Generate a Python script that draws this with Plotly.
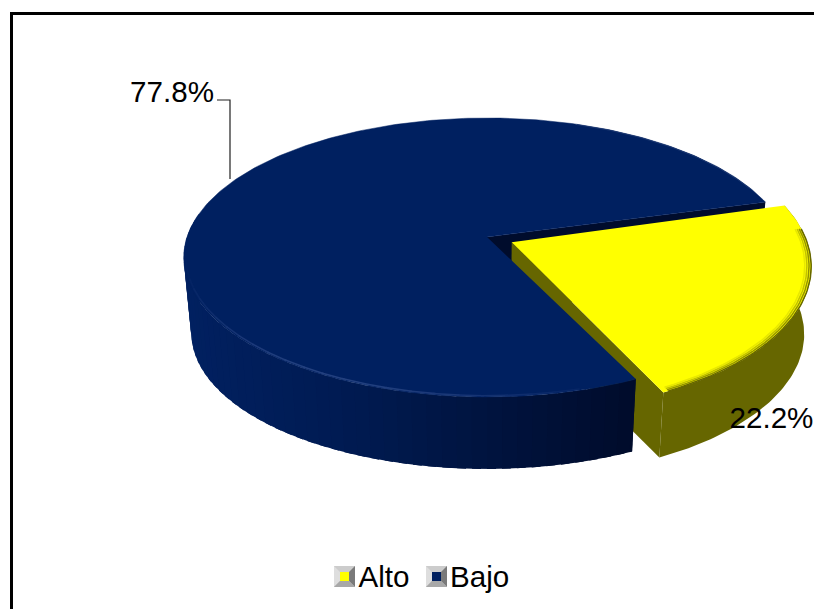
import numpy as np
import plotly.graph_objects as go

# Pie data
categories = ["Alto", "Bajo"]
percentages = [22.2, 77.8]

# Canvas and projection of the pie disc
WIDTH, HEIGHT = 814, 609
APEX_X, APEX_Y = 487.0, 237.0
RADIUS_X, RADIUS_Y = 300.0, 136.5
TILT = 0.147
DEPTH_Y, DEPTH_SCALE = 76.0, 0.975
START_ANGLE = 15.4      # degrees, counter-clockwise from +X; the Alto slice runs clockwise from here
EXPLODE = 0.09
EXPLODED_STRETCH = (0.98, 1.04)
EXPLODED_DEPTH = 0.9

YELLOW, YELLOW_WALL = "#FFFF00", "#666600"
NAVY, NAVY_CUT = "#002060", "#000C2C"


def project(x, y, depth=0.0):
    """Map disc coordinates to canvas pixels; depth 1 is the underside of the pie."""
    x, y = np.asarray(x, float), np.asarray(y, float)
    w = 1 + TILT * y
    s = 1 - (1 - DEPTH_SCALE) * depth
    return APEX_X + s * RADIUS_X * x / w, APEX_Y + DEPTH_Y * depth - s * RADIUS_Y * y / w


def arc(a0, a1, r=1.0, offset=(0.0, 0.0), depth=0.0, n=None, stretch=(1.0, 1.0)):
    n = n or max(2, int(abs(a1 - a0)) + 2)
    t = np.radians(np.linspace(a0, a1, n))
    return project(stretch[0] * r * np.cos(t) + offset[0], stretch[1] * r * np.sin(t) + offset[1], depth)


def mix(c0, c1, f):
    a = [int(c0[i:i + 2], 16) for i in (1, 3, 5)]
    b = [int(c1[i:i + 2], 16) for i in (1, 3, 5)]
    return "#%02x%02x%02x" % tuple(round(p + (q - p) * f) for p, q in zip(a, b))


fig = go.Figure()


def poly(x, y, color, edge=0.0):
    fig.add_trace(go.Scatter(x=list(x), y=list(y), mode="lines", fill="toself", fillcolor=color,
                             line=dict(color=color, width=edge), hoverinfo="skip", showlegend=False))


def stroke(x, y, color, width=1.0):
    fig.add_trace(go.Scatter(x=list(x), y=list(y), mode="lines", line=dict(color=color, width=width),
                             hoverinfo="skip", showlegend=False))


# Slice angles follow the percentages
sweep = percentages[0] / sum(percentages) * 360
alto_start, alto_end = START_ANGLE, START_ANGLE - sweep
bajo_start, bajo_end = alto_start, alto_end + 360
mid = np.radians((alto_start + alto_end) / 2)
shift = (EXPLODE * np.cos(mid), EXPLODE * np.sin(mid))

# Inner cut face of the navy slice, seen through the gap behind the exploded slice
ax0, ay0 = project(0, 0)
ax1, ay1 = project(0, 0, 1)
cx, cy = project(np.cos(np.radians(bajo_start)), np.sin(np.radians(bajo_start)))
cx1, cy1 = project(np.cos(np.radians(bajo_start)), np.sin(np.radians(bajo_start)), 1)
poly([ax0, cx, cx1, ax1], [ay0, cy, cy1, ay1], NAVY_CUT)

# Exploded slice: rim wall, cut wall, then top face
tx, ty = arc(alto_start, alto_end, offset=shift, stretch=EXPLODED_STRETCH)
bx, by = arc(alto_start, alto_end, offset=shift, depth=EXPLODED_DEPTH, stretch=EXPLODED_STRETCH)
poly(np.r_[tx, bx[::-1]], np.r_[ty, by[::-1]], YELLOW_WALL)
ox0, oy0 = project(*shift)
ox1, oy1 = project(*shift, EXPLODED_DEPTH)
poly([ox0, tx[-1], bx[-1], ox1], [oy0, ty[-1], by[-1], oy1], YELLOW_WALL)
poly(np.r_[ox0, tx], np.r_[oy0, ty], YELLOW)

# Soft bevel along the yellow rim, fading out towards the back corner
for r, f, width in [(0.999, 0.0, 1.5), (0.992, 0.3, 1.5), (0.985, 0.6, 1.5), (0.978, 0.85, 1.5)]:
    rx, ry = arc(alto_start - 10, alto_end + 1, r=r, offset=shift, stretch=EXPLODED_STRETCH)
    stroke(rx, ry, mix(YELLOW_WALL, YELLOW, f), width)

# Navy rim wall, shaded from left to right
wall_angles = np.arange(170, bajo_end, 2.5).tolist() + [bajo_end]
for a0, a1 in zip(wall_angles[:-1], wall_angles[1:]):
    a1_lap = min(a1 + 1.5, bajo_end)
    ux, uy = arc(a0, a1_lap, n=2)
    lx, ly = arc(a0, a1_lap, depth=1, n=2)
    f = float(np.clip((ux.mean() - 190) / 440, 0, 1))
    shade = mix("#012060", "#001A50", f / 0.4) if f < 0.4 else mix("#001A50", NAVY_CUT, (f - 0.4) / 0.6)
    poly(np.r_[ux, lx[::-1]], np.r_[uy, ly[::-1]], shade)

# Navy top face
nx, ny = arc(bajo_start, bajo_end)
poly(np.r_[ax0, nx], np.r_[ay0, ny], NAVY, edge=0.5)

# Lighter bevel along the navy rim
rim_angles = np.arange(185, bajo_end - 8, 4.0).tolist()
for a0, a1 in zip(rim_angles[:-1], rim_angles[1:]):
    rx, ry = arc(a0, a1 + 0.5, r=0.993, n=2)
    f = np.sin(np.radians((a0 + a1) / 2 - 185) * 1.55) ** 2
    stroke(rx, ry, mix(NAVY, "#23407F", float(f)), 1.6)
rx, ry = arc(70, 22, r=0.997)
stroke(rx, ry, "#1A3670", 1.0)

# Leader line for the navy label
lead_x, lead_y = arc(153, 153, n=2)
stroke([217, 230, 230], [100, 100, lead_y[0]], "#202020", 1.2)

# Data labels
labels = [f"{v:.1f}%" for v in percentages]
label_font = dict(family="Liberation Sans", size=29.6, color="#000000")
fig.add_trace(go.Scatter(x=[729.5, 214], y=[421, 95], mode="text", text=labels,
                         textposition=["middle right", "middle left"], textfont=label_font,
                         hoverinfo="skip", showlegend=False, cliponaxis=False))


# Legend keys with a small bevelled frame
def legend_key(x0, y0, color):
    size, inset = 21, 6
    x1, y1 = x0 + size, y0 + size
    poly([x0, x1, x1, x0], [y0, y0, y1, y1], "#C8C8C8")
    poly([x0, x1, x1 - inset, x0 + inset], [y0, y0, y0 + inset, y0 + inset], "#CCCCCC")
    poly([x0, x0 + inset, x0 + inset, x0], [y0, y0 + inset, y1 - inset, y1], "#DEDEDE")
    poly([x1, x1 - inset, x1 - inset, x1], [y0, y0 + inset, y1 - inset, y1], "#7A7A7A")
    poly([x0, x1, x1 - inset, x0 + inset], [y1, y1, y1 - inset, y1 - inset], "#A8A8A8")
    poly([x0 + inset, x1 - inset, x1 - inset, x0 + inset],
         [y0 + inset, y0 + inset, y1 - inset, y1 - inset], color)


legend_key(334, 566, YELLOW)
legend_key(426, 566, NAVY)
fig.add_trace(go.Scatter(x=[358.5, 450], y=[579.5, 579.5], mode="text", text=categories,
                         textposition="middle right", textfont=label_font,
                         hoverinfo="skip", showlegend=False))

# Chart frame: only the top and left edges fall inside the page
stroke([11.5, 11.5, 830], [630, 13.5, 13.5], "#000000", 3)

fig.update_layout(
    width=WIDTH, height=HEIGHT, margin=dict(l=0, r=0, t=0, b=0, pad=0),
    paper_bgcolor="#FFFFFF", plot_bgcolor="#FFFFFF", showlegend=False,
    xaxis=dict(range=[0, WIDTH], visible=False, fixedrange=True),
    yaxis=dict(range=[HEIGHT, 0], visible=False, fixedrange=True),
)
fig.write_html("out.html", config=dict(displayModeBar=False))
